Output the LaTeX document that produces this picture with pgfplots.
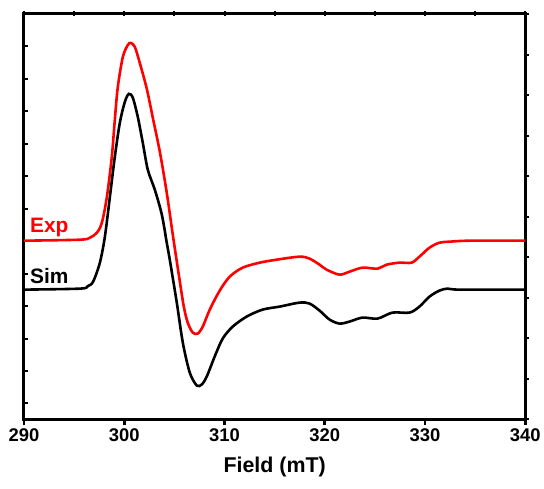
\documentclass[border=0pt]{standalone}
\usepackage{pgfplots}
\pgfplotsset{compat=1.18}
\usepackage{fontspec}
\setmainfont{Liberation Sans}
\begin{document}
\begin{tikzpicture}
\path (0,0) rectangle (544bp,489bp);
\pgfplotsset{
  common/.style={
    at={(24bp,69bp)}, anchor=south west,
    width=502bp, height=406bp, scale only axis,
    xmin=290, xmax=340, ymin=0, ymax=406,
    /pgf/number format/assume math mode=true,
  }
}
% left inward ticks
\begin{axis}[common, hide x axis, axis y line*=left, axis line style={draw=none},
  xtick=\empty, tick align=inside, major tick length=4bp,
  tick style={line width=2bp, black}, yticklabels={},
  ytick={16,48.5,81,113.5,146,178.5,211,243.5,276,308.5,341,373.5}]
\end{axis}
% right outward ticks
\begin{axis}[common, hide x axis, axis y line*=right, axis line style={draw=none},
  xtick=\empty, tick align=outside, major tick length=4bp,
  tick style={line width=2bp, black}, yticklabels={},
  ytick={0,40.6,81.2,121.8,162.4,203,243.6,284.2,324.8,365.4,406}]
\end{axis}
% top centered ticks
\begin{axis}[common, hide y axis, axis x line*=top, axis line style={draw=none},
  ytick=\empty, tick align=center, major tick length=5bp,
  tick style={line width=2bp, black}, xticklabels={},
  xtick={290,295,...,340}]
\end{axis}
\begin{axis}[common,
  axis line style={line width=3bp, line cap=rect},
  xtick={290,300,310,320,330,340},
  xticklabels={290,300,310,320,330,340},
  xtick pos=bottom, tick align=outside,
  major tick length=6bp,
  tick style={line width=2.6bp, black},
  ytick=\empty,
  tick label style={font=\fontsize{18.5}{20}\selectfont\bfseries},
  xlabel={Field (mT)},
  xlabel style={font=\fontsize{21.5}{24}\selectfont\bfseries, yshift=-8bp},
]
\addplot[red, line width=2.6bp, smooth, tension=0.5] coordinates {
(290,179) (295.58,180) (296.57,182) (297.27,187) (297.77,197) (298.27,223)
(298.76,263) (299.06,300) (299.36,333) (299.86,363) (300.36,375) (300.66,377)
(301.06,373) (301.55,357) (302.25,331) (302.85,302) (303.55,268) (304.24,227)
(304.84,185) (305.44,145) (305.94,113) (306.33,97)
(306.83,87) (307.33,86) (307.83,93) (308.53,110) (309.52,129) (310.52,143)
(311.81,152) (313.51,157) (315.20,160) (317.49,163) (318.49,161) (319.48,155)
(320.18,150) (321.47,145) (322.47,148) (323.76,152) (325.26,151) (326.16,155)
(327.45,157) (328.65,157) (329.44,163) (330.44,172) (331.43,177) (332.43,178)
(334.42,179) (340,179)
};
\addplot[black, line width=2.6bp, smooth, tension=0.5] coordinates {
(290,130) (295.58,131) (296.37,133.5) (296.9,138) (297.57,157) (298.07,183)
(298.57,223) (299.06,263) (299.56,297) (300.06,318) (300.46,326) (300.86,322)
(301.35,303) (301.85,277) (302.35,250) (303.05,230) (303.75,205) (304.24,177)
(304.54,160) (305.24,117) (305.84,77) (306.53,47) (307.23,34) (307.73,35)
(308.23,43) (309.02,63) (309.82,81) (310.82,93) (312.21,103) (313.80,110)
(315.50,113) (317.49,117) (318.49,116) (319.48,109) (320.48,100) (321.47,96)
(322.47,98) (323.76,102) (325.26,101) (326.75,107) (328.45,107) (329.44,113)
(330.44,123) (331.43,129) (332.23,131) (333.43,130) (340,130)
};
\node[red, anchor=base west, font=\fontsize{21}{24}\selectfont\bfseries, inner sep=0pt] at (axis cs:290.6,187) {Exp};
\node[black, anchor=base west, font=\fontsize{21}{24}\selectfont\bfseries, inner sep=0pt] at (axis cs:290.6,136) {Sim};
\end{axis}
\end{tikzpicture}
\end{document}
